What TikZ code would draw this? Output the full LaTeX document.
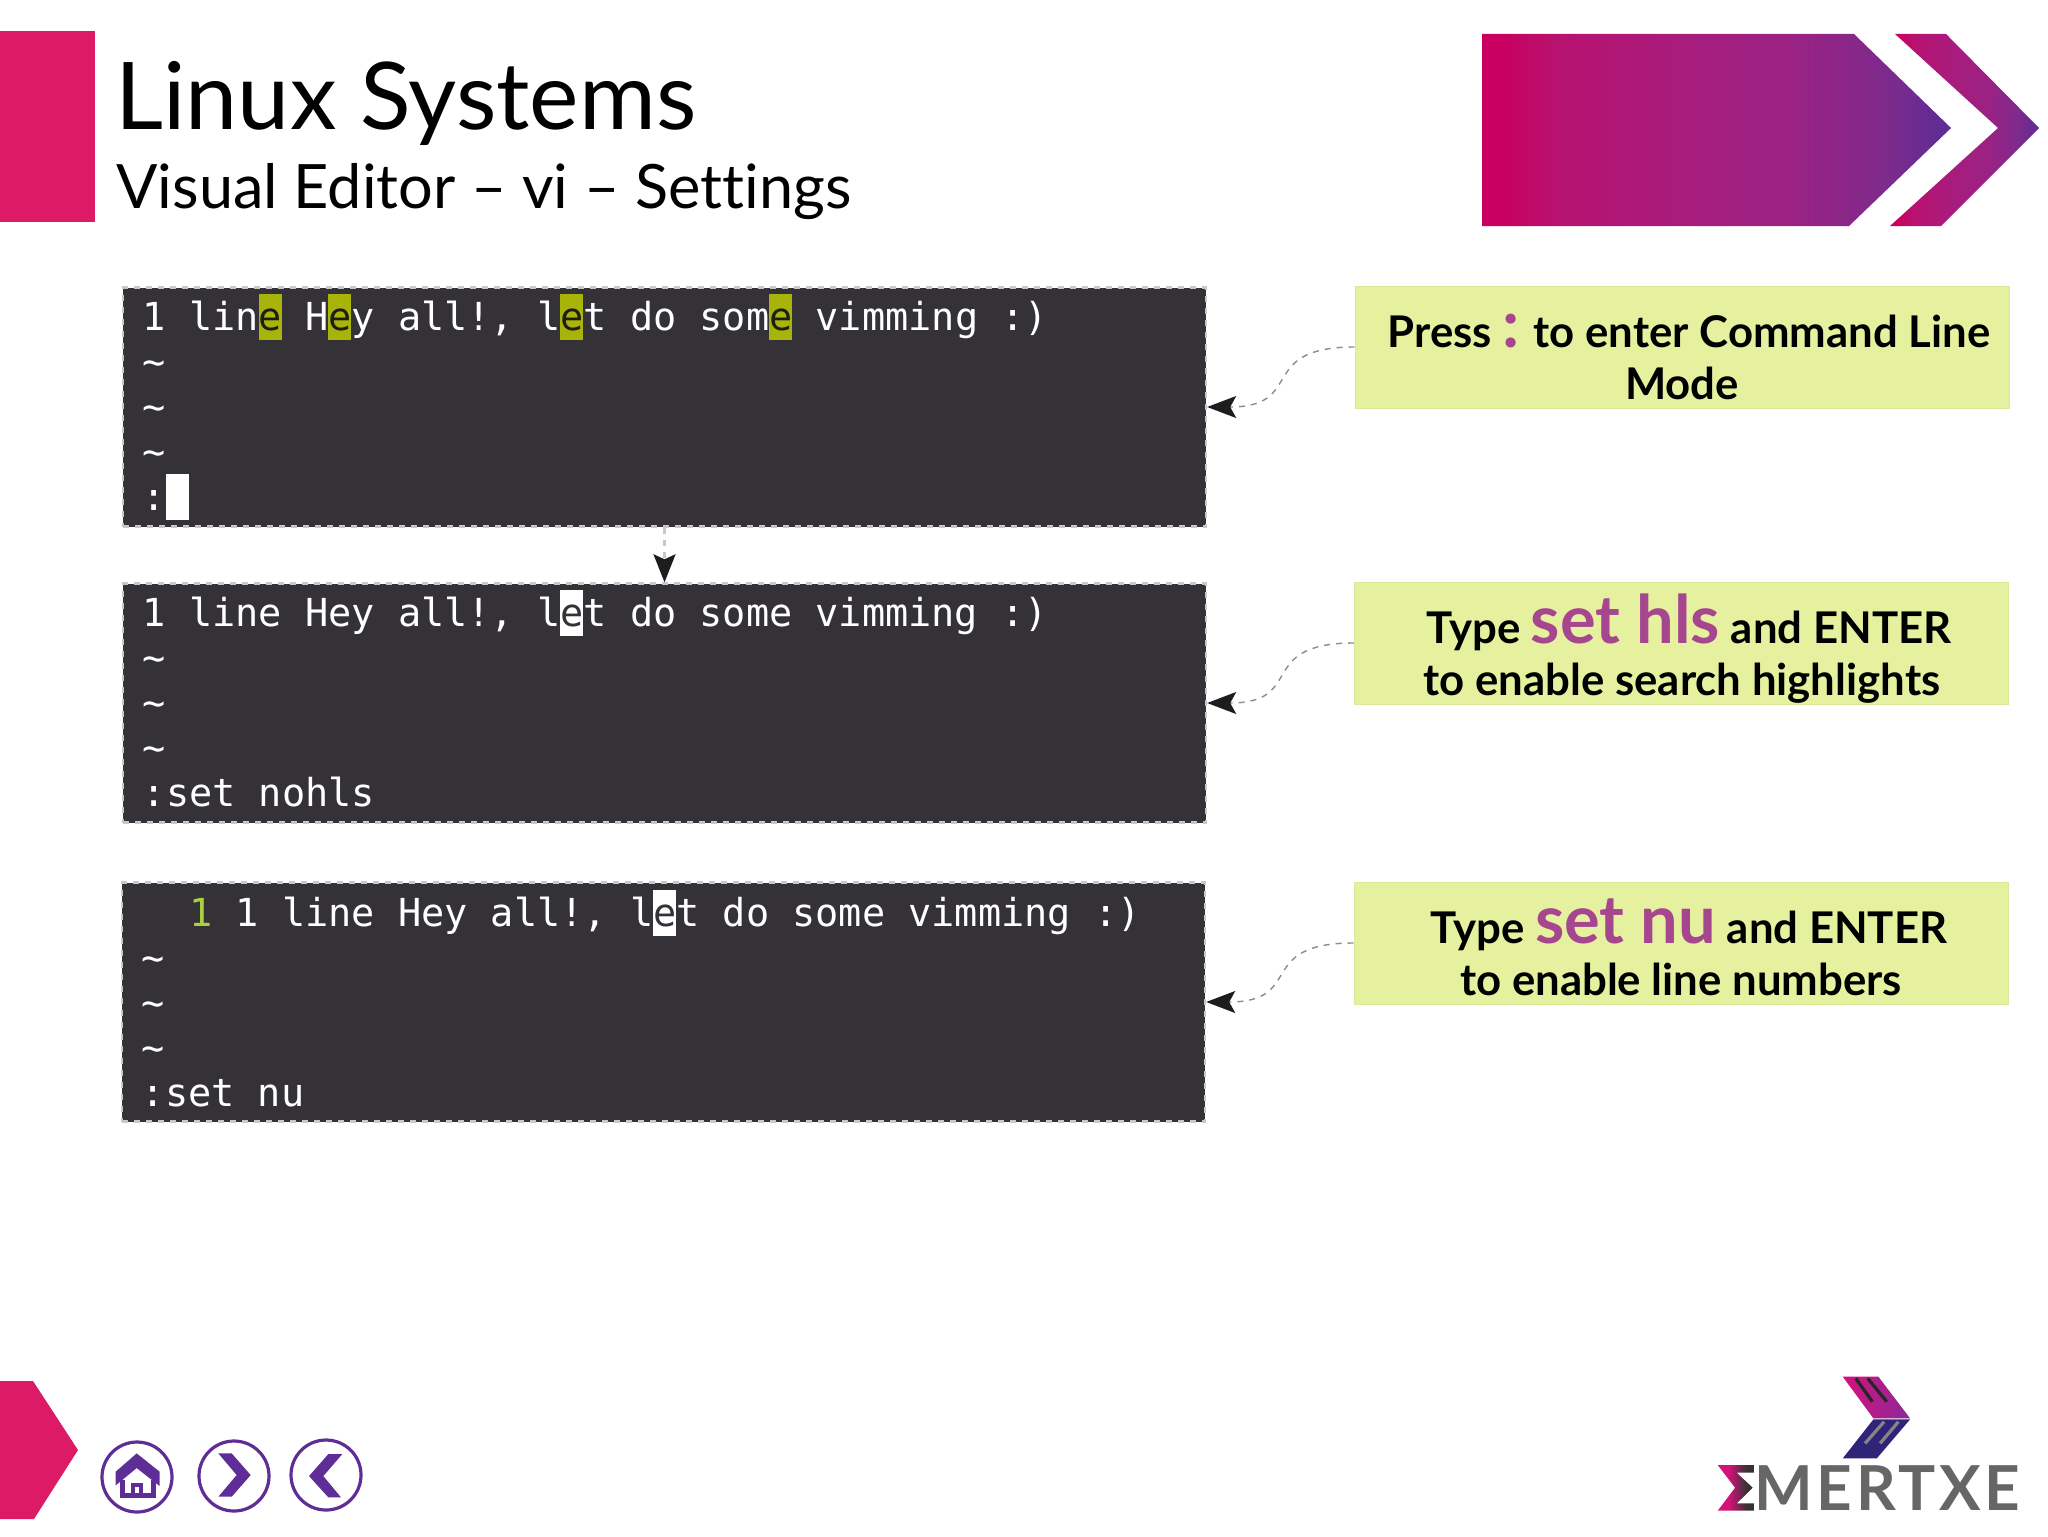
\documentclass[tikz,border=0pt]{standalone}
\usepackage{fontspec}
\setmainfont[Ligatures={TeX,NoCommon}]{Lato}
\setmonofont{DejaVu Sans Mono}
\usetikzlibrary{arrows.meta}
\definecolor{pinkbar}{HTML}{DC1A66}
\definecolor{termbg}{HTML}{343236}
\definecolor{termdash}{HTML}{C8C8C8}
\definecolor{hlbg}{HTML}{A9B40A}
\definecolor{hlfg}{HTML}{1E1E10}
\definecolor{numgreen}{HTML}{A8D040}
\definecolor{noteyellow}{HTML}{E6F19F}
\definecolor{noteedge}{HTML}{DCE89A}
\definecolor{keypurple}{HTML}{A6468E}
\definecolor{navpurple}{HTML}{5F2D96}
\definecolor{tipdark}{HTML}{1D1D20}
\definecolor{linkgrey}{HTML}{8C8C8C}
\definecolor{gradA}{HTML}{C8005F}
\definecolor{gradA2}{HTML}{B81270}
\definecolor{gradB}{HTML}{A81C7C}
\definecolor{gradD}{HTML}{9A2284}
\definecolor{gradE}{HTML}{7E2A8C}
\definecolor{gradC}{HTML}{5A2D96}
\definecolor{logogrey}{HTML}{666666}
\definecolor{logonavy}{HTML}{2F2478}
\definecolor{logodark}{HTML}{333333}
\definecolor{logopink}{HTML}{D4127A}
\definecolor{logomid}{HTML}{8A2A9A}
\pgfdeclarehorizontalshading{bannerfade}{100bp}{color(0bp)=(gradA); color(27bp)=(gradA); color(33bp)=(gradA2); color(46bp)=(gradB); color(58bp)=(gradD); color(68bp)=(gradE); color(75bp)=(gradC); color(100bp)=(gradC)}
\pgfdeclarehorizontalshading{logofade}{100bp}{color(0bp)=(logopink); color(25bp)=(logopink); color(75bp)=(logomid); color(100bp)=(logomid)}
\pgfdeclarehorizontalshading{sigmafade}{100bp}{color(0bp)=(logopink); color(40bp)=(logopink); color(65bp)=(logodark); color(100bp)=(logodark)}
\tikzset{
  term/.style={fill=termbg,draw=termdash,dashed,line width=1.2pt,minimum width=541.5pt,minimum height=119.5pt,inner sep=0pt},
  note/.style={fill=noteyellow,draw=noteedge,line width=.5pt,minimum width=327pt,minimum height=61pt,inner sep=0pt},
  row/.style={anchor=base west,inner sep=0pt,text=white,font=\ttfamily\fontsize{19.27}{22}\selectfont},
  notetext/.style={anchor=base,inner sep=0pt,font=\bfseries\fontsize{21.85}{24}\selectfont,text=black},
  curvelink/.style={linkgrey,dashed,line width=.7pt,-{Stealth[length=14.5pt,width=11pt,inset=3pt,color=tipdark,fill=tipdark]}},
  steplink/.style={termdash,dashed,line width=1.2pt,-{Stealth[length=14pt,width=11pt,inset=2.5pt,color=tipdark,fill=tipdark]}},
  navring/.style={draw=navpurple,line width=1.6pt,fill=white,circle,minimum size=35pt,inner sep=0pt}
}
\newcommand{\hle}{{\color{hlfg}e}}
\newcommand{\cure}{{\color{termbg}e}}
\newcommand{\tld}{\textasciitilde}
\newcommand{\bigkey}[1]{{\color{keypurple}\fontsize{33.4}{24}\selectfont #1}}
\begin{document}
\begin{tikzpicture}[x=0.5pt,y=-0.5pt]
\useasboundingbox (0,0) rectangle (2048,1536);
\fill[white] (0,0) rectangle (2048,1536);
% header
\fill[pinkbar] (0,31) rectangle (95,222);
\node[anchor=base west,inner sep=0pt,font=\fontsize{46.7}{50}\selectfont] (title) at (115,129) {Linux Systems};
\node[anchor=base west,inner sep=0pt,font=\fontsize{30.6}{36}\selectfont] (subtitle) at (116,208) {Visual Editor – vi – Settings};
\shade[shading=bannerfade] (1482,34) -- (1854,34) -- (1951,128) -- (1849,226) -- (1482,226) -- cycle;
\shade[shading=bannerfade] (1895,34) -- (1946,34) -- (2039,128) -- (1941,226) -- (1890,226) -- (1998,128) -- cycle;
% terminal boxes
\node[term] (t1) at (664.5,407) {};
\node[term] (t2) at (664.5,703) {};
\node[term] (t3) at (663.5,1002) {};
% terminal 1
\foreach \c in {5,8,18,27} \fill[hlbg] ({142.5+\c*23.2},294) rectangle ++(23.2,46);
\fill[white] ({142.5+23.2},474) rectangle ++(23.2,46);
\node[row] (r11) at (142.5,330) {1 lin\hle{} H\hle{}y all!, l\hle{}t do som\hle{} vimming :)};
\node[row] (r12) at (142.5,375) {\tld};
\node[row] (r13) at (142.5,420) {\tld};
\node[row] (r14) at (142.5,465) {\tld};
\node[row] (r15) at (142.5,510) {:};
% terminal 2
\fill[white] ({142.5+18*23.2},590) rectangle ++(23.2,46);
\node[row] (r21) at (142.5,626) {1 line Hey all!, l\cure{}t do some vimming :)};
\node[row] (r22) at (142.5,671) {\tld};
\node[row] (r23) at (142.5,716) {\tld};
\node[row] (r24) at (142.5,761) {\tld};
\node[row] (r25) at (142.5,806) {:set nohls};
% terminal 3
\fill[white] ({142.5+22*23.2},890) rectangle ++(23.2,46);
\node[row,text=numgreen] (r3n) at ({142.5+2*23.2},926) {1};
\node[row] (r31) at ({142.5+4*23.2},926) {1 line Hey all!, l\cure{}t do some vimming :)};
\node[row] (r32) at (141.5,971) {\tld};
\node[row] (r33) at (141.5,1016) {\tld};
\node[row] (r34) at (141.5,1061) {\tld};
\node[row] (r35) at (141.5,1106) {:set nu};
% notes
\node[note] (n1) at (1682,347) {};
\node[note] (n2) at (1681.5,643) {};
\node[note] (n3) at (1681,943) {};
\node[notetext] (n1a) at (1689,347) {Press {\color{keypurple}\fontsize{33.4}{24}\selectfont :} to enter Command Line};
\node[notetext] (n1b) at (1682,399) {Mode};
\node[notetext] (n2a) at (1689,643) {Type \bigkey{set hls} and ENTER};
\node[notetext] (n2b) at (1682,695) {to enable search highlights};
\node[notetext] (n3a) at (1689,943) {Type \bigkey{set nu} and ENTER};
\node[notetext] (n3b) at (1681,995) {to enable line numbers};
% connectors
\draw[curvelink] (n1.west) to[out=180,in=0,looseness=1.6] (t1.east);
\draw[curvelink] (n2.west) to[out=180,in=0,looseness=1.6] (t2.east);
\draw[curvelink] (n3.west) to[out=180,in=0,looseness=1.6] (t3.east);
\draw[steplink] (t1.south) -- (t2.north);
% bottom left arrow
\fill[pinkbar] (-20,1381) -- (33,1381) -- (78,1450) -- (34,1519) -- (-20,1519) -- cycle;
\node[navring] (home) at (137,1477) {};
\node[navring] (next) at (234,1476) {};
\node[navring] (prev) at (326,1475) {};
\begin{scope}[x=0.16667pt,y=-0.16667pt,shift={(0,4020)}]
  % home icon
  \fill[navpurple] (410,340) -- (479,395) -- (479,438) -- (410,384) -- (347,436) -- (347,395) -- cycle;
  \draw[navpurple,line width=2.2pt] (368,420) -- (368,466) -- (460,466) -- (460,420);
  \draw[navpurple,line width=2pt] (398,466) -- (398,434) -- (422,434) -- (422,466);
  % next
  \fill[navpurple] (655,340) -- (695,340) -- (752,405) -- (695,470) -- (655,470) -- (710,405) -- cycle;
  % prev
  \fill[navpurple] (1027,342) -- (985,342) -- (927,408) -- (985,472) -- (1023,472) -- (970,408) -- cycle;
\end{scope}
% logo
\begin{scope}[x=0.16667pt,y=-0.16667pt,shift={(5040,4020)}]
  \shade[shading=logofade] (488,110) -- (595,110) -- (690,235) -- (580,235) -- cycle;
  \fill[logonavy] (580,238) -- (690,238) -- (590,355) -- (488,355) -- cycle;
  \draw[black!85,line width=1.6pt] (527,115) -- (577,185) (563,115) -- (620,185);
  \draw[logogrey!80,line width=1.6pt] (612,245) -- (555,310) (655,245) -- (600,310);
  \shade[shading=sigmafade] (113,375) -- (222,375) -- (222,398) -- (170,398) -- (218,443) -- (170,490) -- (222,490) -- (222,512) -- (113,512) -- (165,443) -- cycle;
  \node[anchor=base west,inner sep=0pt,text=logogrey,font=\bfseries\fontsize{31}{34}\selectfont] (logotext) at (222,512) {\addfontfeatures{LetterSpace=6}MERTXE};
\end{scope}
\end{tikzpicture}
\end{document}
